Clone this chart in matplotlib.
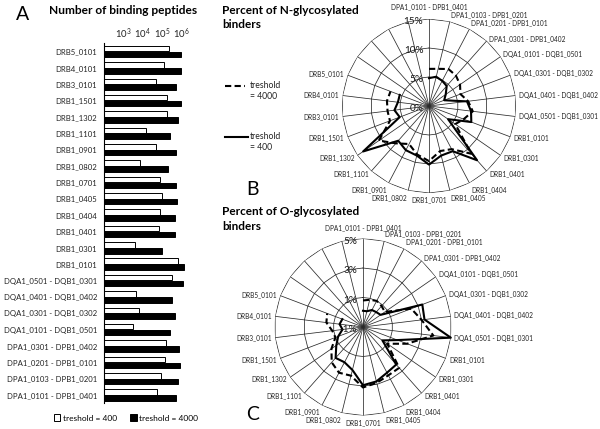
import numpy as np
import matplotlib
matplotlib.use('Agg')
import matplotlib.pyplot as plt
from matplotlib.lines import Line2D
from matplotlib.patches import Patch

plt.rcParams['font.family'] = ['Lato', 'DejaVu Sans']

# alleles, clockwise from the top of the radar charts (= bottom to top of the bar chart)
alleles = ['DPA1_0101 - DPB1_0401', 'DPA1_0103 - DPB1_0201', 'DPA1_0201 - DPB1_0101',
           'DPA1_0301 - DPB1_0402', 'DQA1_0101 - DQB1_0501', 'DQA1_0301 - DQB1_0302',
           'DQA1_0401 - DQB1_0402', 'DQA1_0501 - DQB1_0301', 'DRB1_0101', 'DRB1_0301',
           'DRB1_0401', 'DRB1_0404', 'DRB1_0405', 'DRB1_0701', 'DRB1_0802', 'DRB1_0901',
           'DRB1_1101', 'DRB1_1302', 'DRB1_1501', 'DRB3_0101', 'DRB4_0101', 'DRB5_0101']
n_blank = 4  # empty categories left in the radar (upper left quadrant)

# A: number of binding peptides
peptides_400 = [57500, 87000, 145000, 151000, 3300, 6300, 4700, 324000, 708000, 3900,
                71000, 74000, 100000, 83000, 7600, 49000, 14500, 170000, 182000, 48000,
                123000, 234000]
peptides_4000 = [537000, 676000, 871000, 794000, 263000, 479000, 309000, 1150000, 1410000,
                 98000, 490000, 490000, 589000, 537000, 200000, 537000, 263000, 676000,
                 933000, 513000, 977000, 977000]

# B: percent of N-glycosylated binders
n_glyc_4000 = [6.4, 6.6, 7.2, 7.0, 6.5, 5.8, 6.8, 7.6, 6.4, 5.5, 11.0, 8.4, 8.0, 9.5,
               8.6, 7.4, 8.6, 10.5, 7.2, 7.2, 7.3, 7.1]
n_glyc_400 = [4.8, 5.2, 4.9, 4.6, 3.5, 2.8, 6.6, 7.3, 7.8, 4.0, 12.5, 8.8, 8.8, 10.1,
              8.8, 8.6, 8.0, 13.8, 5.4, 6.0, 5.4, 5.4]
n_rings = [0, 5, 10, 15]

# C: percent of O-glycosylated binders
o_glyc_4000 = [0.8, 0.9, 1.0, 0.9, 0.8, 2.5, 3.0, 3.8, 2.2, 1.0, 2.7, 2.7, 2.9, 3.1,
               2.4, 2.5, 2.2, 1.6, 1.0, 1.1, 1.5, 1.6]
o_glyc_400 = [0.1, 0.1, 0.3, 0.35, 0.45, 3.3, 3.2, 5.0, 1.5, 0.6, 2.4, 2.5, 2.8, 2.95,
              2.0, 1.7, 1.8, 1.2, 0.8, 0.4, 0.6, 0.5]
o_rings = [-1, 1, 3, 5]

W, H = 600, 429
fig = plt.figure(figsize=(6, 4.29), dpi=100)


def px(x, y):
    return x / W, 1 - y / H


# ---------------- A: bar chart ----------------
ax = fig.add_axes([104 / W, 0.060, 89 / W, 0.839])
ax.set_xscale('log')
y = np.arange(len(alleles))
ax.barh(y + 0.18, peptides_400, height=0.34, left=1, color='white', edgecolor='black', lw=0.7)
ax.barh(y - 0.18, peptides_4000, height=0.34, left=1, color='black', edgecolor='black', lw=0.7)
ax.set_xlim(100, 10 ** 6.6)
ax.set_ylim(-0.5, len(alleles) - 0.5)
ax.set_xticks([1e3, 1e4, 1e5, 1e6])
ax.xaxis.set_minor_locator(matplotlib.ticker.NullLocator())
ax.xaxis.tick_top()
ax.tick_params(axis='x', length=0, pad=1.5, labelsize=6.8, labelcolor='#222222')
ax.set_yticks(y)
ax.set_yticklabels(alleles)
ax.tick_params(axis='y', length=0, pad=5, labelsize=5.6, labelcolor='#222222')
for s in ['top', 'right', 'bottom']:
    ax.spines[s].set_visible(False)
ax.spines['left'].set_linewidth(0.8)

fig.legend(handles=[Patch(facecolor='white', edgecolor='black', lw=0.7),
                    Patch(facecolor='black', edgecolor='black', lw=0.7)],
           labels=['treshold = 400', 'treshold = 4000'], loc='center',
           bbox_to_anchor=px(126, 418), ncol=2, frameon=False, fontsize=6.0,
           handlelength=0.8, handleheight=0.8, handletextpad=0.3, columnspacing=1.6)

fig.text(*px(23, 14), 'A', fontsize=14, ha='center', va='center')
fig.text(*px(49, 10), 'Number of binding peptides', fontsize=8.6, fontweight='bold',
         ha='left', va='center')


# ---------------- B, C: radar charts ----------------
def radar(cx, cy, rad, rings, vals_4000, vals_400, lift_top):
    left, top = px(cx - rad, cy - rad)
    rax = fig.add_axes([left, top - 2 * rad / H, 2 * rad / W, 2 * rad / H], projection='polar')
    rax.set_theta_zero_location('N')
    rax.set_theta_direction(-1)
    n_spokes = len(alleles) + n_blank
    theta = np.arange(n_spokes) * 2 * np.pi / n_spokes
    rax.set_ylim(rings[0], rings[-1])
    rax.set_xticks(theta)
    rax.set_xticklabels([])
    rax.set_yticks([])
    rax.xaxis.grid(True, color='#2a2a2a', lw=0.55)
    rax.spines['polar'].set_visible(False)
    closed = np.append(theta, theta[0])
    for r in rings[1:]:
        rax.plot(closed, np.full(len(closed), r), color='#2a2a2a', lw=0.55, zorder=1)
    th = theta[:len(alleles)]
    rax.plot(th, vals_4000, color='black', lw=1.5, ls=(0, (3, 1.6)), zorder=3, clip_on=False)
    rax.plot(th, vals_400, color='black', lw=1.5, zorder=3, clip_on=False)
    for r in rings:
        rax.annotate('%d%%' % r, (0, r), xytext=(-4, -2), textcoords='offset points',
                     ha='right', va='center', fontsize=7.2, color='#1a1a1a')
    for t, name in zip(th, alleles):
        s, c = np.sin(t), np.cos(t)
        ha = 'left' if s > 0.05 else ('right' if s < -0.05 else 'center')
        va = 'bottom' if c > 0.8 else ('top' if c < -0.8 else 'center')
        lift = lift_top if c > 0.99 else 0  # top label sits above its neighbours
        rax.annotate(name, (t, rings[-1]), xytext=(2.5 * s, 2.5 * c + lift),
                     textcoords='offset points', ha=ha, va=va, fontsize=4.7, color='#222222')
    return rax


radar(429, 106, 87, n_rings, n_glyc_4000, n_glyc_400, 4)
radar(363, 327, 88.5, o_rings, o_glyc_4000, o_glyc_400, 2.5)

for ty, line1 in [(10, 'Percent of N-glycosylated'), (212, 'Percent of O-glycosylated')]:
    fig.text(*px(222, ty), line1, fontsize=8.5, fontweight='bold', ha='left', va='center')
    fig.text(*px(222, ty + 15), 'binders', fontsize=8.5, fontweight='bold',
             ha='left', va='center')
fig.text(*px(252, 189), 'B', fontsize=14, ha='center', va='center')
fig.text(*px(253, 415), 'C', fontsize=14, ha='center', va='center')

# legend of the radar charts
fig.add_artist(Line2D([225 / W, 245 / W], [1 - 86 / H] * 2, color='black', lw=1.5,
                      ls=(0, (3, 1.6))))
fig.add_artist(Line2D([225 / W, 248 / W], [1 - 137 / H] * 2, color='black', lw=1.5))
fig.text(*px(250, 81), 'treshold\n= 4000', fontsize=6.2, ha='left', va='top', linespacing=1.3,
         color='#222222')
fig.text(*px(250, 132), 'treshold\n= 400', fontsize=6.2, ha='left', va='top', linespacing=1.3,
         color='#222222')

fig.savefig('out.png', dpi=100)
